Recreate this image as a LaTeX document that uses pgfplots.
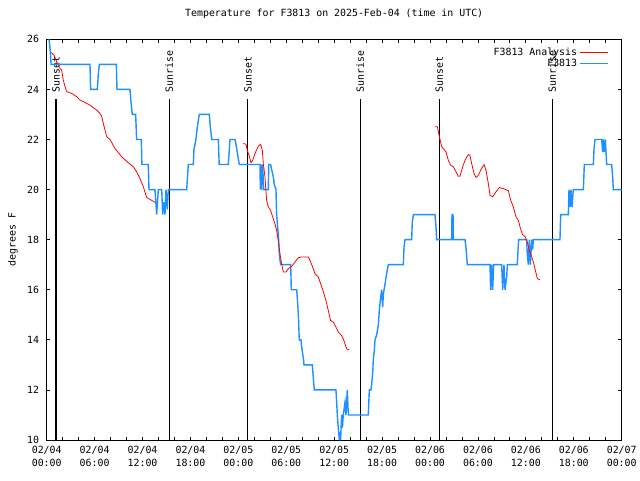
\documentclass[border=0pt]{standalone}
\usepackage{pgfplots}
\pgfplotsset{compat=1.18}
\usepackage{fontspec}
\setmainfont{DejaVu Sans Mono}
\definecolor{obsblue}{RGB}{30,144,255}
\begin{document}
\begin{tikzpicture}
\useasboundingbox (-46.7pt,-40pt) rectangle (593.3pt,440pt);
\begin{axis}[
  at={(0,0)}, anchor=south west, scale only axis,
  width=575pt, height=400.7pt,
  xmin=0, xmax=72, ymin=10, ymax=26,
  font=\fontsize{9.9}{12.7}\selectfont,
  /pgf/number format/assume math mode=true,
  xtick={0,6,...,72}, minor x tick num=2,
  xticklabels={02/04\\00:00,02/04\\06:00,02/04\\12:00,02/04\\18:00,02/05\\00:00,02/05\\06:00,02/05\\12:00,02/05\\18:00,02/06\\00:00,02/06\\06:00,02/06\\12:00,02/06\\18:00,02/07\\00:00},
  xticklabel style={align=center, font=\fontsize{9.9}{12.7}\selectfont, yshift=-3pt},
  ytick={10,12,...,26},
  yticklabel style={font=\fontsize{9.9}{12}\selectfont, xshift=-4pt},
  tick align=inside, major tick length=3.5pt, minor tick length=3.5pt,
  tick style={black, line width=0.8pt},
  axis line style={black, line width=1pt},
  title={Temperature for F3813 on 2025-Feb-04 (time in UTC)},
  title style={at={(0.5,1)}, anchor=center, yshift=19.3pt},
  ylabel={degrees F},
  ylabel style={at={(axis description cs:0,0.5)}, anchor=center, yshift=33.7pt},
  legend plot pos=right,
  legend cell align=right,
  legend style={draw=none, fill=none, at={(1,1)}, anchor=north east, xshift=-10pt, yshift=-4pt,
    font=\fontsize{9.9}{12}\selectfont, row sep=-1.7pt},
  legend image code/.code={\draw[#1] (0pt,0pt) -- (28pt,0pt);},
]
% Sunset / Sunrise markers
\addplot[black, line width=1.1pt, forget plot] coordinates {(1.16,10) (1.16,23.6)};
\addplot[black, line width=1.1pt, forget plot] coordinates {(15.35,10) (15.35,23.6)};
\addplot[black, line width=1.1pt, forget plot] coordinates {(25.2,10) (25.2,23.6)};
\addplot[black, line width=1.1pt, forget plot] coordinates {(39.25,10) (39.25,23.6)};
\addplot[black, line width=1.1pt, forget plot] coordinates {(49.16,10) (49.16,23.6)};
\addplot[black, line width=1.1pt, forget plot] coordinates {(63.3,10) (63.3,23.6)};
\node[rotate=90, anchor=west, inner sep=0.5pt] at (axis cs:1.16,23.85) {Sunset};
\node[rotate=90, anchor=west, inner sep=0.5pt] at (axis cs:15.35,23.85) {Sunrise};
\node[rotate=90, anchor=west, inner sep=0.5pt] at (axis cs:25.2,23.85) {Sunset};
\node[rotate=90, anchor=west, inner sep=0.5pt] at (axis cs:39.25,23.85) {Sunrise};
\node[rotate=90, anchor=west, inner sep=0.5pt] at (axis cs:49.16,23.85) {Sunset};
\node[rotate=90, anchor=west, inner sep=0.5pt] at (axis cs:63.3,23.85) {Sunrise};
% Analysis (red)
\addplot[red, line width=0.8pt] coordinates {
(0.45,25.5) (0.91,25.37) (1.25,25.11) (1.46,24.97) (1.66,24.84) (1.87,24.77) (2.08,24.37) (2.29,24.11) (2.5,23.91) (3.13,23.84) (3.75,23.71) (4.17,23.57) (4.59,23.51) (5.42,23.37) (6.26,23.17) (6.67,23.04) (6.88,22.93) (7.09,22.64) (7.51,22.11) (7.93,22.0) (8.55,21.64) (9.39,21.31) (10.22,21.07) (10.85,20.91) (11.26,20.71) (11.68,20.44) (12.1,20.11) (12.52,19.68) (13.14,19.57) (13.69,19.47)
};
\addlegendentry{F3813 Analysis}
\addplot[obsblue, line width=1.4pt] coordinates {
(0.3,26) (0.45,25.5) (0.55,25) (5.42,25) (5.5,24) (6.34,24) (6.46,24.6) (6.59,25) (8.72,25) (8.8,24) (10.43,24) (10.55,23.5) (10.72,23) (11.14,23) (11.2,22.5) (11.26,22) (11.85,22) (11.92,21) (12.72,21) (12.81,20) (13.56,20) (13.77,19) (13.98,20) (14.4,20) (14.52,19) (14.69,19.5) (14.81,19) (14.94,20) (15.1,19.2) (15.23,20) (17.53,20) (17.73,21) (18.36,21) (18.44,21.6) (18.69,22) (18.86,22.5) (19.11,23) (20.36,23) (20.49,22.5) (20.66,22) (21.49,22) (21.6,21) (22.74,21) (22.95,22) (23.58,22) (23.7,21.8) (24.12,21) (26.71,21) (26.75,20) (26.83,21) (26.91,20) (27.04,21) (27.17,20) (27.75,20) (27.8,21) (28.04,21) (28.17,20.8) (28.38,20.5) (28.5,20.2) (28.71,20) (28.79,19) (28.92,18.5) (29.04,18) (29.13,17.4) (29.29,17) (30.55,17) (30.63,16) (31.3,16) (31.42,15.5) (31.51,15) (31.63,14) (31.84,14) (31.97,13.6) (32.13,13.3) (32.22,13) (33.26,13) (33.38,12.5) (33.51,12) (36.22,12) (36.31,11.5) (36.39,11) (36.51,10.5) (36.64,10) (36.72,10.3) (36.8,10) (36.93,11) (37.03,10.5) (37.14,11) (37.35,11.5) (37.47,11) (37.64,12) (37.77,11) (40.27,11) (40.4,12) (40.6,12) (40.69,12.2) (40.82,12.7) (40.9,13.2) (41.03,13.6) (41.11,14) (41.32,14.2) (41.53,14.6) (41.65,15.2) (41.82,15.7) (41.94,16) (42.07,15.3) (42.15,15.8) (42.24,16) (42.36,16.2) (42.49,16.5) (42.65,16.8) (42.78,17) (44.66,17) (44.74,17.7) (44.87,18) (45.7,18) (45.78,18.7) (45.91,19) (48.62,19) (48.75,18.5) (48.83,18) (50.71,18) (50.75,19) (50.88,19) (50.92,18) (52.38,18) (52.5,17.7) (52.67,17) (55.51,17) (55.59,16) (55.72,17) (55.84,16) (55.97,17) (56.97,17) (57.1,16) (57.26,17) (57.39,16) (57.6,16.5) (57.68,17) (58.93,17) (59.02,17.6) (59.1,18) (60.1,18) (60.18,17.4) (60.31,17) (60.43,18) (60.56,17) (60.73,18) (60.85,17.6) (60.94,18) (64.27,18) (64.36,19) (65.11,19) (65.32,19) (65.4,20) (65.53,19.3) (65.65,20) (65.78,19.3) (65.94,20) (67.2,20) (67.32,21) (68.45,21) (68.53,21.6) (68.66,22) (69.49,22) (69.62,21.5) (69.7,22) (69.82,21.5) (69.95,22) (70.12,21) (70.74,21) (70.87,20.5) (70.95,20) (72,20)
};
\addlegendentry{F3813}
\addplot[red, line width=0.8pt, forget plot] coordinates {
(24.62,21.84) (24.95,21.81) (25.12,21.57) (25.37,21.33) (25.58,21.07) (25.79,21.17) (26.08,21.44) (26.5,21.73) (26.79,21.81) (27.0,21.57) (27.12,21.04) (27.33,20.51) (27.54,19.57) (27.75,19.31) (28.04,19.17) (28.29,18.91) (28.58,18.64) (28.79,18.37) (29.0,17.97) (29.21,17.44) (29.42,17.04) (29.63,16.71) (29.96,16.71) (30.25,16.84) (30.67,16.93) (31.09,17.11) (31.51,17.28) (31.92,17.31) (32.76,17.31) (32.97,17.17) (33.3,16.91) (33.59,16.64) (34.01,16.51) (34.3,16.24) (34.64,15.91) (34.97,15.57) (35.26,15.17) (35.55,14.77) (35.89,14.71) (36.22,14.51) (36.51,14.31) (36.93,14.17) (37.22,13.97) (37.56,13.64) (37.89,13.6)
};
\addplot[red, line width=0.8pt, forget plot] coordinates {
(48.62,22.51) (48.92,22.51) (49.17,22.11) (49.46,21.71) (49.75,21.6) (50.0,21.51) (50.29,21.17) (50.59,20.97) (50.92,20.91) (51.25,20.71) (51.55,20.53) (51.75,20.53) (52.09,20.91) (52.38,21.17) (52.8,21.4) (53.0,21.37) (53.21,21.04) (53.51,20.64) (53.76,20.48) (54.05,20.57) (54.38,20.8) (54.76,21.0) (55.01,20.77) (55.3,20.24) (55.51,19.77) (55.84,19.71) (56.26,19.91) (56.68,20.08) (57.18,20.04) (57.81,19.95) (58.1,19.57) (58.43,19.31) (58.76,18.91) (59.06,18.77) (59.27,18.51) (59.56,18.21) (59.89,18.13) (60.18,17.91) (60.43,17.57) (60.73,17.31) (60.94,17.11) (61.14,16.84) (61.44,16.44) (61.77,16.4)
};
\end{axis}
\end{tikzpicture}
\end{document}
